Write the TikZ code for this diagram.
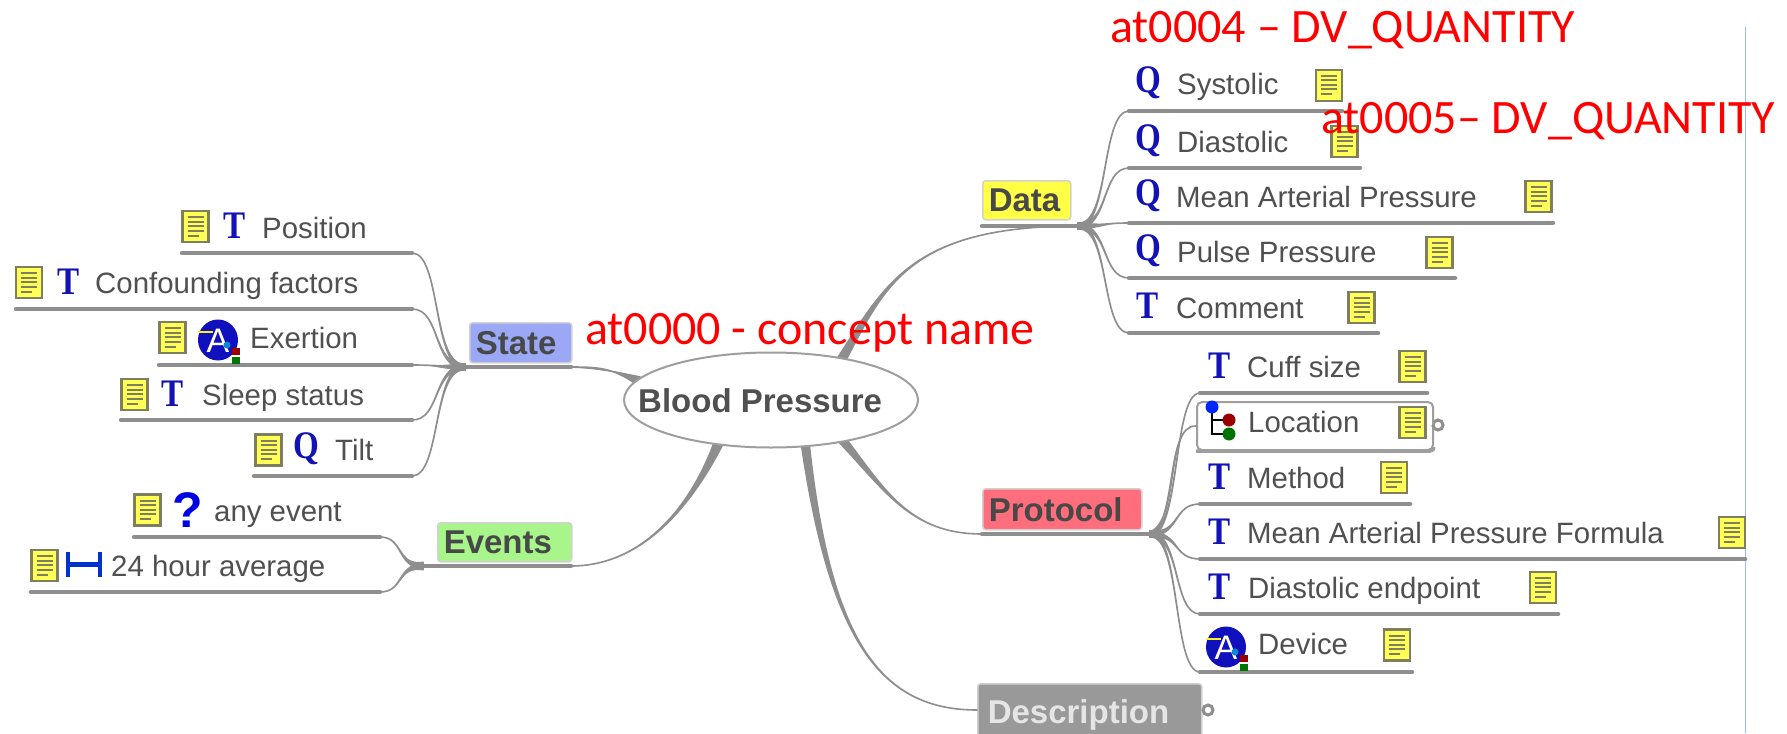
\documentclass[tikz,border=0pt]{standalone}
\usepackage{fontspec}
\setmainfont{Liberation Sans}
\newfontfamily\serifico{Liberation Serif}
\newfontfamily\redfont{Carlito}
\usetikzlibrary{shapes.geometric,calc}
\definecolor{txt}{HTML}{505050}
\definecolor{bar}{HTML}{8E8E8E}
\definecolor{icoblue}{HTML}{1212B5}
\definecolor{notey}{HTML}{FFFF55}
\definecolor{noteb}{HTML}{7F7F60}
\definecolor{vline}{HTML}{9FB9E8}
\tikzset{
  lab/.style={anchor=base west,inner sep=0pt,text=txt,font=\fontsize{29.4}{34}\selectfont},
  boldlab/.style={lab,font=\bfseries\fontsize{33}{38}\selectfont},
  redlab/.style={anchor=base west,inner sep=0pt,text=red,font=\redfont\fontsize{48}{56}\selectfont},
  branchbox/.style={rectangle,rounded corners=3pt,draw=black!18,line width=1.5pt,inner xsep=6pt,inner ysep=0pt,align=left,font=\bfseries\fontsize{33}{38}\selectfont,text=txt!90!black},
  ul/.style={draw=bar,line width=4.5pt,line cap=round},
  branch/.style={draw=bar,fill=bar,line width=1.6pt,line join=round},
  ico/.style={anchor=base,inner sep=0pt,text=icoblue,font=\serifico\bfseries\fontsize{39}{44}\selectfont,transform shape,xscale=.85},
  ring/.style={circle,draw=bar,line width=3pt,fill=white,minimum size=10pt,inner sep=0pt},
  noteico/.pic={
    \draw[fill=notey,draw=noteb,line width=2.4pt] (-13,-15.5) rectangle (13,15.5);
    \foreach \yy in {-9.5,-5,-0.5,4}{\draw[noteb,line width=2pt] (-8,\yy) -- (8,\yy);}
    \draw[noteb,line width=2pt] (-8,9) -- (3,9);
  },
  aico/.pic={
    \fill[icoblue!90!blue] (0,0) circle[x radius=20,y radius=20.5];
    \node[inner sep=0pt,text=white,font=\fontsize{34}{38}\selectfont] at (0,1) {A};
    \draw[yellow!90!white,line width=2pt] (-20,-8) -- (-5,-8);
    \fill[cyan!70!blue] (9,5) circle (3.5);
    \fill[red!60!black] (14,8) rectangle (22,15);
    \fill[green!45!black] (14,17) rectangle (22,24);
  }
}
% underline: name, x1, x2, y
\newcommand{\barline}[4]{\coordinate (#1-l) at (#2,#4); \coordinate (#1-r) at (#3,#4); \draw[ul] (#1-l) -- (#1-r);}
% tapered S connector: from, to, half width at the from end
\newcommand{\conn}[3]{\path[branch] ([yshift=-#3pt]#1) .. controls ($(#1)!.62!(#1-|#2)$) and ($(#2)!.55!(#2-|#1)$) .. (#2) .. controls ($(#2)!.55!(#2-|#1)$) and ($(#1)!.62!(#1-|#2)$) .. ([yshift=#3pt]#1) -- cycle;}
% tapered main connector: from (thin), c1, c2, to (thick), half width
\newcommand{\mainconn}[5]{\path[branch] (#1) .. controls #2 and #3 .. ([xshift=-#5pt]#4) -- ([xshift=#5pt]#4) .. controls #3 and #2 .. (#1) -- cycle;}
\begin{document}
\begin{tikzpicture}[x=1pt,y=-1pt]
\useasboundingbox (0,0) rectangle (1787,733);
\fill[white] (0,0) rectangle (1787,733);
\draw[vline,line width=1.5pt] (1745.5,27) -- (1745.5,733);

% central topic and branch boxes
\coordinate (bp-st) at (640,383);
\coordinate (bp-ev) at (720,440);
\coordinate (bp-pr) at (842,440);
\coordinate (bp-da) at (840,362);
\coordinate (bp-de) at (805,442);

% underlines of the branches
\barline{stateb}{465}{571}{367}
\barline{eventsb}{423}{571}{566}
\barline{datab}{982}{1078}{226}
\barline{protb}{982}{1150}{534}

\node[branchbox,fill=black!40,text=black!10,inner xsep=10pt,text width=204pt,minimum height=62pt,anchor=north west] (description) at (977,683) {Description};
\coordinate (desc-w) at (977,710);
\node[branchbox,fill={rgb,255:red,255;green,255;blue,70},text width=76pt,minimum height=39pt,anchor=north west] (data) at (982,180) {Data};
\node[branchbox,fill={rgb,255:red,255;green,110;blue,125},text width=147pt,minimum height=41pt,anchor=north west] (protocol) at (982,488) {Protocol};
\node[branchbox,fill={rgb,255:red,154;green,168;blue,245},inner xsep=6pt,text width=90pt,minimum height=40pt,anchor=north west] (state) at (469,322) {State};
\node[branchbox,fill={rgb,255:red,168;green,245;blue,140},inner xsep=6pt,text width=122pt,minimum height=39pt,anchor=north west] (events) at (437,522) {Events};

% main connectors
\path[branch] (stateb-r) .. controls (600,367) and (615,368) .. ([yshift=-4pt]bp-st) -- ([yshift=6pt]bp-st) .. controls (615,372) and (600,368) .. (stateb-r) -- cycle;
\mainconn{eventsb-r}{(640,566)}{(690,510)}{bp-ev}{5}
\mainconn{protb-l}{(910,534)}{(885,490)}{bp-pr}{5}
\mainconn{datab-r}{(910,226)}{(885,285)}{bp-da}{5}
\mainconn{desc-w}{(880,710)}{(830,640)}{bp-de}{4}

\node[ellipse,draw=black!38,fill=white,line width=2pt,minimum width=294pt,minimum height=95pt,inner sep=0pt] (bp) at (771,400) {};
\node[boldlab,anchor=base west] (bptext) at (638,412) {Blood Pressure};

% rings
\node[ring] (descring) at (1208,710) {};
\node[ring] (locring) at (1438,425) {};
\draw[bar,line width=2.6pt] (description.east |- descring) -- (descring);

% ---------- Data children
\barline{sys}{1129}{1342}{111}
\barline{dia}{1129}{1360}{168}
\barline{map}{1129}{1553}{223}
\barline{pul}{1129}{1455}{278}
\barline{com}{1129}{1378}{333}
\conn{datab-r}{sys-l}{3}
\conn{datab-r}{dia-l}{3}
\conn{datab-r}{map-l}{3}
\conn{datab-r}{pul-l}{3}
\conn{datab-r}{com-l}{3}
\node[ico] (qsys) at (1148,93) {Q};
\node[lab] (systolic) at (1177,95) {Systolic};
\pic at (1329,85.5) {noteico};
\node[ico] (qdia) at (1148,150) {Q};
\node[lab] (diastolic) at (1177,152) {Diastolic};
\pic at (1344.5,141.5) {noteico};
\node[ico] (qmap) at (1148,205) {Q};
\node[lab] (mapt) at (1176,207) {Mean Arterial Pressure};
\pic at (1538.5,196.5) {noteico};
\node[ico] (qpul) at (1148,260) {Q};
\node[lab] (pulse) at (1177,262) {Pulse Pressure};
\pic at (1439.5,252.5) {noteico};
\node[ico] (tcom) at (1148,318) {T};
\node[lab] (comment) at (1176,318) {Comment};
\pic at (1361.5,307.5) {noteico};

% ---------- Protocol children
\barline{cuf}{1200}{1427}{393}
\barline{met}{1200}{1410}{504}
\barline{fmf}{1200}{1745}{559}
\barline{den}{1200}{1558}{614}
\barline{dev}{1200}{1412}{672}
\node[rectangle,rounded corners=5pt,draw=black!38,fill=white,line width=2pt,minimum width=236pt,minimum height=48pt,inner sep=0pt,anchor=north west] (locbox) at (1196,401) {};
\draw[black!38,line width=3.5pt,rounded corners=4pt] (locbox.south west) -- (locbox.south east) -- ++(0,-4);
\draw[bar,line width=2.6pt] (locbox.east) -- (locring);
\conn{protb-r}{cuf-l}{3}
\path[branch] ([yshift=-2pt]protb-r) .. controls (1178,520) and (1165,425) .. (locbox.west) .. controls (1165,425) and (1180,520) .. ([yshift=2pt]protb-r) -- cycle;
\conn{protb-r}{met-l}{3}
\conn{protb-r}{fmf-l}{3}
\conn{protb-r}{den-l}{3}
\conn{protb-r}{dev-l}{3}
\node[ico] (tcuf) at (1220,378) {T};
\node[lab] (cuff) at (1247,377) {Cuff size};
\pic at (1412.5,366.5) {noteico};
\draw[black,line width=2pt] (1212,407) -- (1212,434) -- (1229,434) (1212,420) -- (1229,420);
\fill[blue!85!cyan] (1212,407) circle (6.5);
\fill[red!60!black] (1229,420) circle (6.5);
\fill[green!45!black] (1229,434) circle (6.5);
\node[lab] (location) at (1248,432) {Location};
\pic at (1412.5,422.5) {noteico};
\node[ico] (tmet) at (1220,489) {T};
\node[lab] (method) at (1247,488) {Method};
\pic at (1394,477.5) {noteico};
\node[ico] (tfmf) at (1220,544) {T};
\node[lab] (formula) at (1247,543) {Mean Arterial Pressure Formula};
\pic at (1732,532.5) {noteico};
\node[ico] (tden) at (1220,599) {T};
\node[lab] (endpoint) at (1248,598) {Diastolic endpoint};
\pic at (1543,587.5) {noteico};
\pic at (1226,647) {aico};
\node[lab] (device) at (1258,654) {Device};
\pic at (1397,645) {noteico};

% ---------- State children
\barline{pos}{182}{412}{253}
\barline{con}{16}{412}{309}
\barline{exe}{159}{412}{365}
\barline{sle}{121}{412}{420}
\barline{til}{254}{412}{476}
\conn{stateb-l}{pos-r}{3}
\conn{stateb-l}{con-r}{3}
\conn{stateb-l}{exe-r}{3}
\conn{stateb-l}{sle-r}{3}
\conn{stateb-l}{til-r}{3}
\pic at (195.5,226.5) {noteico};
\node[ico] (tpos) at (234.5,238) {T};
\node[lab] (position) at (262,238) {Position};
\pic at (29,282.5) {noteico};
\node[ico] (tcon) at (68.5,294) {T};
\node[lab] (confound) at (95,293) {Confounding factors};
\pic at (172.5,337.5) {noteico};
\pic at (218,340) {aico};
\node[lab] (exertion) at (250,348) {Exertion};
\pic at (134.5,394.5) {noteico};
\node[ico] (tsle) at (173,406) {T};
\node[lab] (sleep) at (202,405) {Sleep status};
\pic at (268.5,450) {noteico};
\node[ico] (qtil) at (306.5,458) {Q};
\node[lab] (tilt) at (335,460) {Tilt};

% ---------- Events children
\barline{any}{134}{380}{537}
\barline{avg}{31}{380}{592}
\conn{eventsb-l}{any-r}{3.5}
\conn{eventsb-l}{avg-r}{3.5}
\pic at (147.5,510) {noteico};
\node[anchor=base,inner sep=0pt,text=blue!90!black,font=\bfseries\fontsize{50}{56}\selectfont] (qmark) at (188,527) {?};
\node[lab] (anyevent) at (214,521) {any event};
\pic at (44.5,565.5) {noteico};
\draw[blue!75!cyan!80!black,line width=4.5pt] (68,552) -- (68,577) (100,552) -- (100,577) (68,564.5) -- (100,564.5);
\node[lab] (average) at (111,576) {24 hour average};

% ---------- red annotations
\node[redlab] (r4) at (1110,43) {at0004 – DV\_QUANTITY};
\node[redlab] (r5) at (1321,133) {at0005– DV\_QUANTITY};
\node[redlab] (r0) at (585,344) {at0000 - concept name};
\end{tikzpicture}
\end{document}
